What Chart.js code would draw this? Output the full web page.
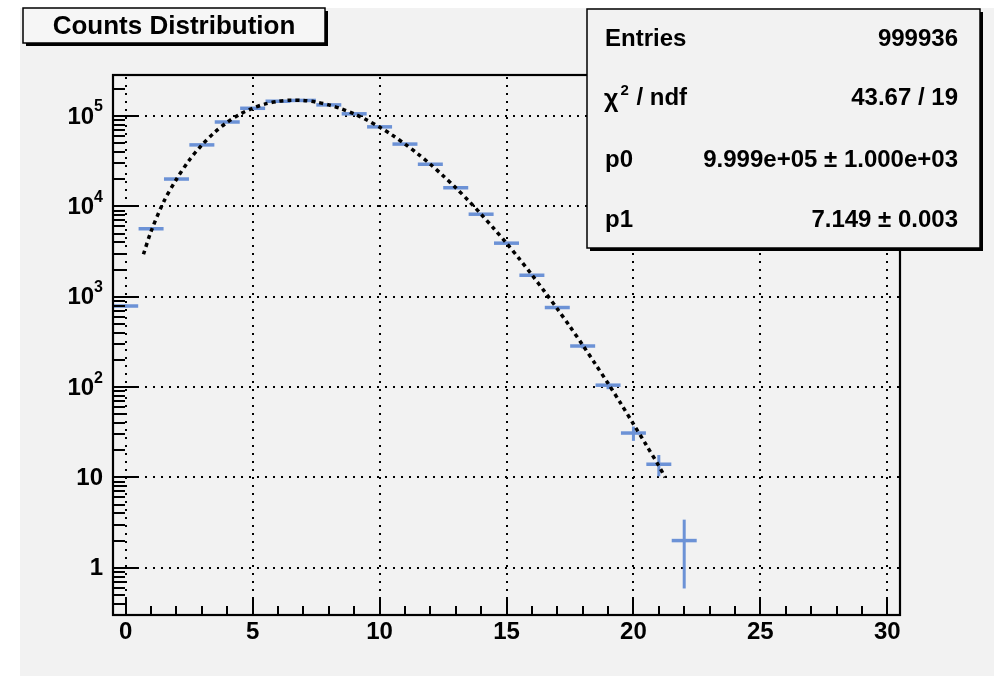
<!DOCTYPE html>
<html>
<head>
<meta charset="utf-8">
<script src="https://cdn.jsdelivr.net/npm/chart.js@4.4.1/dist/chart.umd.min.js"></script>
<style>
  html, body { margin: 0; padding: 0; background: #ffffff; }
  #wrap { width: 996px; height: 676px; position: relative; }
</style>
</head>
<body>
<div id="wrap"><canvas id="chart" width="996" height="676"></canvas></div>
<script>
// Histogram bins (bin centres) and counts
const binCenters = [0, 1, 2, 3, 4, 5, 6, 7, 8, 9, 10, 11, 12, 13, 14, 15, 16, 17, 18, 19, 20, 21, 22];
const binCounts = [790, 5660, 20100, 48000, 86000, 122000, 146000, 149000, 133000, 106000, 76000,
  49000, 29300, 16100, 8200, 3920, 1730, 760, 285, 105, 31, 14, 2];
const binErrors = [28, 75, 142, 219, 293, 349, 382, 386, 365, 326, 276,
  221, 171, 127, 91, 63, 42, 28, 17, 10.2, 5.6, 3.7, 1.41];

// Fit curve
const fitX = [0.7, 1, 1.5, 2, 2.5, 3, 3.5, 4, 4.5, 5, 5.5, 6, 6.5, 7, 7.5, 8, 8.5, 9, 9.5, 10,
  10.5, 11, 11.5, 12, 12.5, 13, 13.5, 14, 14.5, 15, 15.5, 16, 16.5, 17, 17.5, 18, 18.5, 19,
  19.5, 20, 20.5, 21, 21.25];
const fitY = [2950, 5300, 11300, 20000, 32400, 47800, 66000, 85500, 105000, 122300, 136400,
  145800, 150000, 148900, 143000, 133000, 120300, 105700, 90500, 75500, 61600, 49100, 38300,
  29300, 21900, 16100, 11600, 8200, 5700, 3920, 2640, 1750, 1140, 736, 467, 292, 180, 110,
  66, 39, 23, 13.4, 10];

// Axis ticks
const xTicks = [0, 5, 10, 15, 20, 25, 30];
const xTickLabels = ['0', '5', '10', '15', '20', '25', '30'];
const yTicks = [1, 10, 100, 1000, 10000, 100000];
const yTickBase = ['1', '10', '10', '10', '10', '10'];
const yTickExp = ['', '', '2', '3', '4', '5'];

// Stats box
const statLabels = ['Entries', 'χ2 / ndf', 'p0', 'p1'];
const statValues = ['999936', '43.67 / 19', '9.999e+05 ± 1.000e+03', '7.149 ± 0.003'];

const histBlue = '#6c92d6';
const FONT = '"Liberation Sans", Arial, Helvetica, sans-serif';

const rootStyle = {
  id: 'rootStyle',
  beforeDraw(chart) {
    const ctx = chart.ctx;
    ctx.save();
    ctx.fillStyle = '#ffffff';
    ctx.fillRect(0, 0, chart.width, chart.height);
    ctx.fillStyle = '#f2f2f2';
    ctx.fillRect(20, 8, 974, 668);
    ctx.restore();
  },
  beforeDatasetsDraw(chart) {
    const { ctx, chartArea: a, scales: { x, y } } = chart;
    ctx.save();
    // dotted grid
    ctx.strokeStyle = '#000';
    ctx.lineWidth = 2;
    ctx.setLineDash([2, 6]);
    xTicks.forEach(v => {
      const px = Math.round(x.getPixelForValue(v));
      ctx.beginPath(); ctx.moveTo(px, a.bottom); ctx.lineTo(px, a.top); ctx.stroke();
    });
    yTicks.forEach(v => {
      const py = Math.round(y.getPixelForValue(v));
      ctx.beginPath(); ctx.moveTo(a.left, py); ctx.lineTo(a.right, py); ctx.stroke();
    });
    ctx.setLineDash([]);
    // vertical error bars
    ctx.strokeStyle = histBlue;
    ctx.lineWidth = 3;
    binCenters.forEach((c, i) => {
      const px = x.getPixelForValue(c);
      const lo = Math.max(binCounts[i] - binErrors[i], y.min);
      ctx.beginPath();
      ctx.moveTo(px, y.getPixelForValue(lo));
      ctx.lineTo(px, y.getPixelForValue(binCounts[i] + binErrors[i]));
      ctx.stroke();
    });
    ctx.restore();
  },
  afterDraw(chart) {
    const { ctx, chartArea: a, scales: { x, y } } = chart;
    ctx.save();
    ctx.strokeStyle = '#000';
    ctx.fillStyle = '#000';
    // frame
    ctx.lineWidth = 2.2;
    ctx.strokeRect(a.left, a.top, a.right - a.left, a.bottom - a.top);

    // x ticks (inside)
    ctx.lineWidth = 2;
    for (let v = 0; v <= 30; v++) {
      const px = Math.round(x.getPixelForValue(v));
      const len = v % 5 === 0 ? 18 : 9;
      ctx.beginPath(); ctx.moveTo(px, a.bottom); ctx.lineTo(px, a.bottom - len); ctx.stroke();
    }
    // y ticks (inside), minor at 2..9 of each decade
    for (let d = 0.1; d <= 1e5; d *= 10) {
      for (let m = 1; m <= 9; m++) {
        const v = m * d;
        if (v < y.min || v > y.max) continue;
        const py = Math.round(y.getPixelForValue(v));
        const len = m === 1 ? 24 : 12;
        ctx.beginPath(); ctx.moveTo(a.left, py); ctx.lineTo(a.left + len, py); ctx.stroke();
      }
    }

    // x labels
    ctx.font = 'bold 24px ' + FONT;
    ctx.textAlign = 'center';
    ctx.textBaseline = 'middle';
    xTicks.forEach((v, i) => {
      ctx.fillText(xTickLabels[i], x.getPixelForValue(v), a.bottom + 17);
    });
    // y labels with superscript exponent
    const rightEdge = a.left - 10;
    yTicks.forEach((v, i) => {
      const py = y.getPixelForValue(v);
      let baseRight = rightEdge;
      if (yTickExp[i]) {
        ctx.font = 'bold 16px ' + FONT;
        ctx.textAlign = 'right';
        ctx.textBaseline = 'middle';
        ctx.fillText(yTickExp[i], rightEdge, py - 9);
        baseRight = rightEdge - ctx.measureText(yTickExp[i]).width;
      }
      ctx.font = 'bold 24px ' + FONT;
      ctx.textAlign = 'right';
      ctx.textBaseline = 'middle';
      ctx.fillText(yTickBase[i], baseRight, py + 1);
    });

    // title box
    drawBox(ctx, 23, 8, 302, 35, '#f6f6f6');
    ctx.font = 'bold 26px ' + FONT;
    ctx.textAlign = 'center';
    ctx.textBaseline = 'middle';
    ctx.fillStyle = '#000';
    ctx.fillText('Counts Distribution', 174, 27);

    // stats box
    drawBox(ctx, 587, 9, 393, 239, '#f2f2f2');
    const rowY = [39, 98, 160, 220];
    ctx.textBaseline = 'middle';
    ctx.fillStyle = '#000';
    rowY.forEach((ry, i) => {
      ctx.font = 'bold 24px ' + FONT;
      ctx.textAlign = 'left';
      if (i === 1) {
        ctx.font = 'bold 25px ' + FONT;
        ctx.fillText('χ', 604, ry + 2);
        const w = ctx.measureText('χ').width;
        ctx.font = 'bold 15px ' + FONT;
        ctx.fillText('2', 604 + w + 2, ry - 7);
        ctx.font = 'bold 24px ' + FONT;
        ctx.fillText('/ ndf', 604 + w + 18, ry);
      } else {
        ctx.fillText(statLabels[i], 605, ry);
      }
      ctx.textAlign = 'right';
      ctx.fillText(statValues[i], 958, ry);
    });
    ctx.restore();
  }
};

function drawBox(ctx, bx, by, bw, bh, fill) {
  ctx.fillStyle = '#000';
  ctx.fillRect(bx + 3, by + 3, bw, bh);
  ctx.fillStyle = fill;
  ctx.fillRect(bx, by, bw, bh);
  ctx.strokeStyle = '#000';
  ctx.lineWidth = 1.5;
  ctx.strokeRect(bx, by, bw, bh);
}

new Chart(document.getElementById('chart'), {
  type: 'scatter',
  data: {
    datasets: [
      {
        label: 'fit',
        order: 0,
        data: fitX.map((v, i) => ({ x: v, y: fitY[i] })),
        showLine: true,
        borderColor: '#000',
        borderWidth: 3.5,
        borderDash: [4, 4],
        pointRadius: 0,
        tension: 0.3
      },
      {
        label: 'counts',
        order: 1,
        data: binCenters.map((v, i) => ({ x: v, y: binCounts[i] })),
        pointStyle: 'line',
        pointRadius: 12.5,
        borderColor: histBlue,
        backgroundColor: histBlue,
        borderWidth: 3.5
      }
    ]
  },
  options: {
    responsive: false,
    animation: false,
    devicePixelRatio: 1,
    layout: { padding: { left: 113, right: 96, top: 75, bottom: 61 } },
    plugins: { legend: { display: false }, tooltip: { enabled: false } },
    scales: {
      x: { type: 'linear', min: -0.5, max: 30.5, display: false },
      y: { type: 'logarithmic', min: 0.3, max: 285000, display: false }
    }
  },
  plugins: [rootStyle]
});
</script>
</body>
</html>
